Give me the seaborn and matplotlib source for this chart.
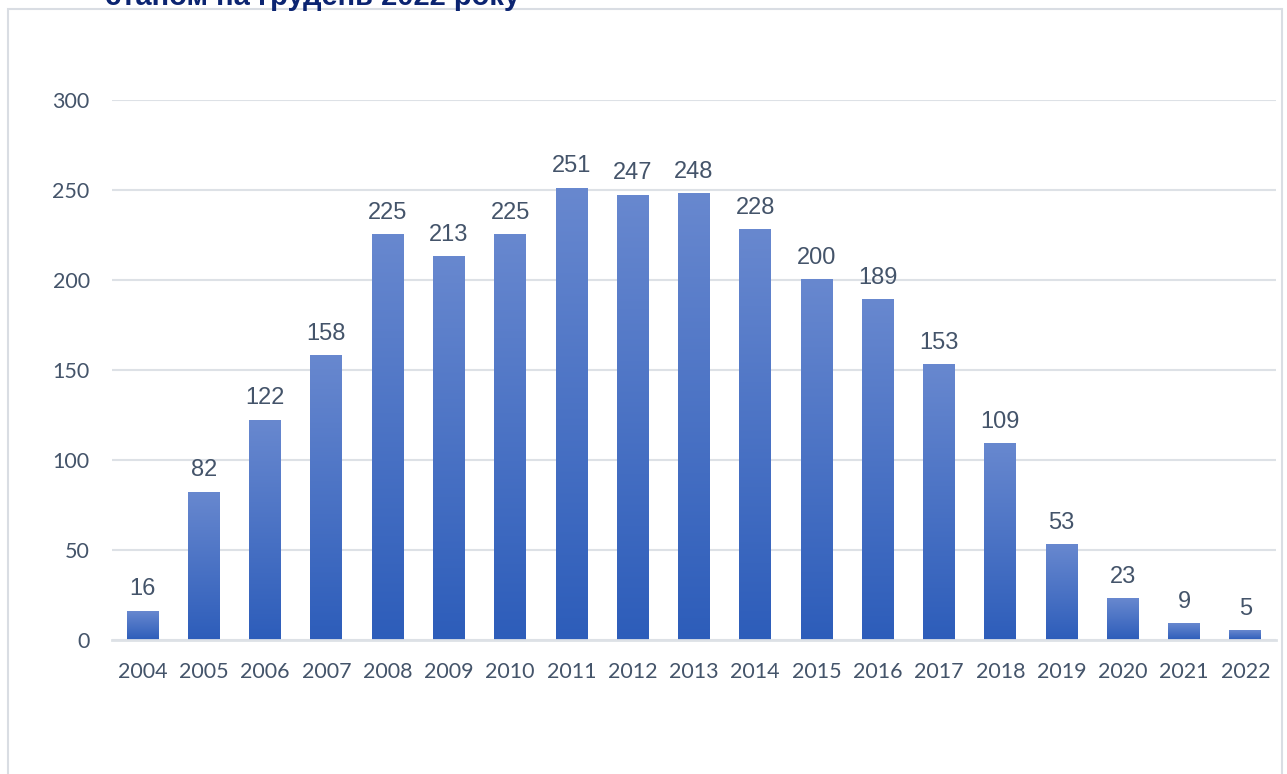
import numpy as np
import pandas as pd
import matplotlib
matplotlib.use("Agg")
import matplotlib.pyplot as plt
import seaborn as sns
from matplotlib.colors import LinearSegmentedColormap
from matplotlib.patches import Rectangle

years = ["2004", "2005", "2006", "2007", "2008", "2009", "2010", "2011", "2012", "2013",
         "2014", "2015", "2016", "2017", "2018", "2019", "2020", "2021", "2022"]
values = [16, 82, 122, 158, 225, 213, 225, 251, 247, 248, 228, 200, 189, 153, 109, 53, 23, 9, 5]
yticks = [0, 50, 100, 150, 200, 250, 300]
title = "станом на грудень 2022 року"

sns.set_theme(style="white")
plt.rcParams['font.family'] = ['Lato', 'DejaVu Sans']

text_col = '#44546A'
grid_col = '#DDE1E6'

fig = plt.figure(figsize=(12.87, 7.74), dpi=100)
ax = fig.add_axes([0.087, 0.1731, 0.9044, 0.6977])

df = pd.DataFrame({"year": years, "count": values})
sns.barplot(data=df, x="year", y="count", color="#4472C4", width=0.52, ax=ax)

# gradient fill per bar (light top, dark bottom)
cmap = LinearSegmentedColormap.from_list("bar", ["#2D5DBA", "#6888CF"])
grad = np.linspace(0, 1, 256).reshape(-1, 1)
for p in ax.patches:
    x0, y0, w, h = p.get_x(), p.get_y(), p.get_width(), p.get_height()
    ax.imshow(grad, extent=[x0, x0 + w, y0, y0 + h], aspect='auto', cmap=cmap,
              origin='lower', zorder=2, interpolation='bilinear')
    p.set_visible(False)

for i, v in enumerate(values):
    ax.annotate(str(v), (i, v), xytext=(0, 11.5), textcoords='offset points',
                ha='center', va='baseline', fontsize=17, color=text_col,
                family=['Liberation Sans', 'DejaVu Sans'])

ax.set_xlim(-0.5, len(years) - 0.5)
ax.set_ylim(0, 300)
ax.set_yticks(yticks)
ax.grid(axis='y', color=grid_col, lw=1.5)
ax.set_axisbelow(True)
for s in ['top', 'right', 'left']:
    ax.spines[s].set_visible(False)
ax.spines['bottom'].set_color(grid_col)
ax.spines['bottom'].set_linewidth(2)
ax.tick_params(axis='both', length=0, labelsize=15.5, labelcolor=text_col)
ax.tick_params(axis='y', pad=16)
ax.tick_params(axis='x', pad=16)
ax.set_xlabel('')
ax.set_ylabel('')

# chart frame
fig.patches.append(Rectangle((8 / 1287, -0.1), 0.9899, 1.0884, transform=fig.transFigure,
                             fill=False, edgecolor='#D9DDE3', lw=1.5))

fig.text(105 / 1287, 1 - 5 / 774, title, fontsize=21, fontweight='bold',
         color='#0B2471', va='baseline', family=['Liberation Sans', 'DejaVu Sans'])

fig.savefig("out.png", dpi=100)
